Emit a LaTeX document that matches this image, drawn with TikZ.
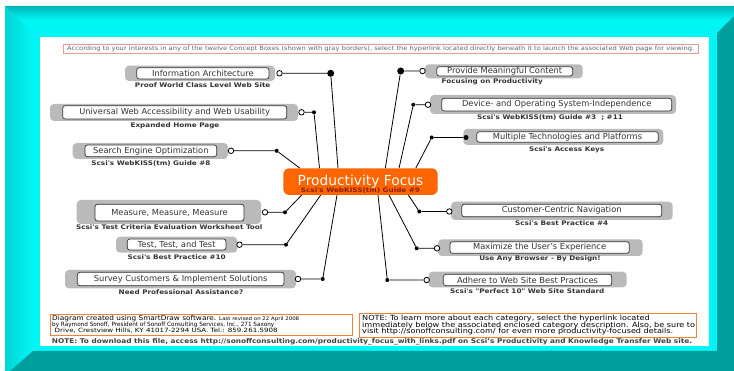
\documentclass[tikz,border=0pt]{standalone}
\usepackage{fontspec}
\usepackage{graphicx}
\setmainfont{DejaVu Sans}
\newfontfamily\widesans[FakeStretch=1.15]{DejaVu Sans}
\usetikzlibrary{calc}
\definecolor{cy}{RGB}{0,245,245}
\definecolor{cydark}{RGB}{0,180,180}
\definecolor{tealdark}{RGB}{0,158,158}
\definecolor{boxgray}{RGB}{186,186,186}
\definecolor{txt}{RGB}{51,51,51}
\definecolor{orangec}{RGB}{255,102,0}
\definecolor{subred}{RGB}{140,30,0}
\definecolor{hdrline}{RGB}{230,160,140}
\definecolor{footline}{RGB}{240,130,60}
\newcommand\lblfont{\fontsize{8.3}{9}\selectfont}
\newcommand\subfont{\widesans\bfseries\fontsize{6.3}{7}\selectfont}
\newcommand\fitto[3]{\resizebox{#1}{\height}{\fontsize{#2}{#2}\selectfont #3}}
\begin{document}
\begin{tikzpicture}[x=1pt,y=-1pt,
  graybox/.style={fill=boxgray, rounded corners=4pt},
  wbox/.style={draw=txt, line width=0.7pt, fill=white, rounded corners=2.5pt, inner sep=0pt, font=\lblfont, text=txt},
  subt/.style={inner sep=0pt, font=\subfont, text=txt},
  ocirc/.style={circle, draw=black, fill=white, line width=0.8pt, inner sep=0pt, minimum size=5.5pt},
  bigdot/.style={circle, fill=black, inner sep=0pt, minimum size=7pt},
  smalldot/.style={circle, fill=black, inner sep=0pt, minimum size=4pt},
  conn/.style={line width=0.8pt, black},
  footbox/.style={draw=footline, line width=0.8pt, inner sep=0pt},
  foottxt/.style={inner sep=0pt, anchor=west, text=black}]
\useasboundingbox (0,0) rectangle (734,371);
\fill[white] (0,0) rectangle (734,371);
% frame
\begin{scope}
\clip (5,6) rectangle (734,371);
\fill[cy] (5,6) rectangle (751,400);
\shade[top color=cydark, bottom color=cy, middle color=cy] (5,6) -- (751,6) -- (717,33) -- (33,33) -- cycle;
\shade[left color=cydark, right color=cy] (5,6) -- (33,33) -- (33,351) -- (-23,400) -- (5,400) -- cycle;
\fill[tealdark] (717,33) -- (751,-1) -- (751,400) -- (-23,400) -- (33,351) -- (717,351) -- cycle;
\end{scope}
\fill[white] (40,37) rectangle (709,346);
% header
\node[draw=hdrline, line width=0.6pt, minimum width=634.5pt, minimum height=9pt, inner sep=0pt, text=black!60] (hdr) at (380.75,49)
  {\fitto{627pt}{6}{According to your interests in any of the twelve Concept Boxes (shown with gray borders), select the hyperlink located directly beneath it to launch the associated Web page for viewing.}};
% ---- left branches
% Information Architecture
\fill[graybox] (125,65.7) rectangle (275,81);
\node[wbox, minimum width=132.3pt, minimum height=11.3pt] (ia) at (202.85,73.35) {Information Architecture};
\node[subt] (iaS) at (202.7,85.5) {Proof World Class Level Web Site};
\node[ocirc] (iaC) at (279.5,73.3) {};
\node[bigdot] (iaD) at (330.7,73.3) {};
\coordinate (iaE) at (338,168.3);
\draw[conn] (iaC) -- (iaD) -- (iaE);
% Universal
\fill[graybox] (50,104) rectangle (298,121);
\node[wbox, minimum width=224pt, minimum height=13.3pt] (uw) at (174.7,112.35) {Universal Web Accessibility and Web Usability};
\node[subt] (uwS) at (175,125.3) {Expanded Home Page};
\node[ocirc] (uwC) at (301.5,112.3) {};
\node[smalldot] (uwD) at (314,112.3) {};
\coordinate (uwE) at (319.5,168.3);
\draw[conn] (uwC) -- (uwD) -- (uwE);
% SEO
\fill[graybox] (72.7,143) rectangle (228,159);
\node[wbox, minimum width=131.7pt, minimum height=11.7pt] (se) at (150.85,150.85) {Search Engine Optimization};
\node[subt] (seS) at (151,163.5) {Scsi's WebKISS(tm) Guide \#8};
\node[ocirc] (seC) at (231,150.8) {};
\node[smalldot] (seD) at (276.7,150.8) {};
\coordinate (seE) at (300,168.3);
\draw[conn] (seC) -- (seD) -- (seE);
% Measure
\fill[graybox] (76.7,200) rectangle (261,224);
\node[wbox, minimum width=149pt, minimum height=16.7pt] (ms) at (169.5,212.65) {Measure, Measure, Measure};
\node[subt] (msS) at (169.3,227) {Scsi's Test Criteria Evaluation Worksheet Tool};
\node[ocirc] (msC) at (265,212.3) {};
\node[smalldot] (msD) at (285,212.3) {};
\coordinate (msE) at (301.7,195);
\draw[conn] (msC) -- (msD) -- (msE);
% Test
\fill[graybox] (116,236.7) rectangle (237.3,252.7);
\node[wbox, minimum width=98.7pt, minimum height=11pt] (tt) at (176.65,244.5) {Test, Test, and Test};
\node[subt] (ttS) at (176.7,256.9) {Scsi's Best Practice \#10};
\node[ocirc] (ttC) at (239.5,244.7) {};
\node[smalldot] (ttD) at (286,244.7) {};
\coordinate (ttE) at (320.7,195);
\draw[conn] (ttC) -- (ttD) -- (ttE);
% Survey
\fill[graybox] (65,270) rectangle (296,288.3);
\node[wbox, minimum width=206.7pt, minimum height=13.4pt] (sc) at (180.65,279) {Survey Customers \& Implement Solutions};
\node[subt] (scS) at (181,291.9) {Need Professional Assistance?};
\node[ocirc] (scC) at (298,279) {};
\node[smalldot] (scD) at (322.7,279) {};
\coordinate (scE) at (337,195);
\draw[conn] (scC) -- (scD) -- (scE);
% ---- right branches
% Provide
\fill[graybox] (425,64.3) rectangle (582.7,78.3);
\node[wbox, minimum width=136pt, minimum height=9.3pt] (pm) at (504.7,71.35) {Provide Meaningful Content};
\node[subt] (pmS) at (492.3,82) {Focusing on Productivity};
\node[ocirc] (pmC) at (422.5,71) {};
\node[bigdot] (pmD) at (400.7,71) {};
\coordinate (pmE) at (385.3,168.3);
\draw[conn] (pmC) -- (pmD) -- (pmE);
% Device
\fill[graybox] (430,95) rectangle (676,114);
\node[wbox, minimum width=230pt, minimum height=12.7pt] (dv) at (556.7,104.65) {Device- and Operating System-Independence};
\node[subt] (dvS) at (550,117.6) {Scsi's WebKISS(tm) Guide \#3 \ ; \#11};
\node[ocirc] (dvC) at (428,104.7) {};
\node[smalldot] (dvD) at (413.3,104.7) {};
\coordinate (dvE) at (399,168.3);
\draw[conn] (dvC) -- (dvD) -- (dvE);
% Multiple
\fill[graybox] (463.3,129) rectangle (663.3,145);
\node[wbox, minimum width=181.6pt, minimum height=10.6pt] (mt) at (567.5,137) {Multiple Technologies and Platforms};
\node[subt] (mtS) at (566.7,149.3) {Scsi's Access Keys};
\node[smalldot, minimum size=5pt] (mtC) at (466,137.5) {};
\node[smalldot] (mtD) at (431.7,137.5) {};
\coordinate (mtE) at (415.7,168.3);
\draw[conn] (mtC) -- (mtD) -- (mtE);
% Customer
\fill[graybox] (451,201.7) rectangle (672.7,220);
\node[wbox, minimum width=200pt, minimum height=12.4pt] (cc) at (561.7,210.5) {Customer-Centric Navigation};
\node[subt] (ccS) at (561.7,223) {Scsi's Best Practice \#4};
\node[ocirc] (ccC) at (449.3,211.5) {};
\node[smalldot] (ccD) at (419.3,211.5) {};
\coordinate (ccE) at (408.3,195);
\draw[conn] (ccC) -- (ccD) -- (ccE);
% Maximize
\fill[graybox] (438,239.3) rectangle (642.7,256);
\node[wbox, minimum width=179.3pt, minimum height=11.6pt] (mx) at (539.65,247.5) {Maximize the User's Experience};
\node[subt] (mxS) at (540,259) {Use Any Browser - By Design!};
\node[ocirc] (mxC) at (437,248.3) {};
\node[smalldot] (mxD) at (416.7,248.3) {};
\coordinate (mxE) at (389,195);
\draw[conn] (mxC) -- (mxD) -- (mxE);
% Adhere
\fill[graybox] (428.5,271.7) rectangle (626.7,287.3);
\node[wbox, minimum width=168.4pt, minimum height=11.4pt] (ad) at (527.5,280) {Adhere to Web Site Best Practices};
\node[subt] (adS) at (527.3,291) {Scsi's "Perfect 10" Web Site Standard};
\node[ocirc] (adC) at (426.7,280) {};
\node[smalldot] (adD) at (387.3,280) {};
\coordinate (adE) at (378,195);
\draw[conn] (adC) -- (adD) -- (adE);
% central node
\node[fill=orangec, rounded corners=6pt, minimum width=154.4pt, minimum height=26.7pt, inner sep=0pt] (c) at (360.5,181.65) {};
\node[inner sep=0pt, text=white, font=\fontsize{13.8}{15}\selectfont] (cT) at (360.5,181.2) {Productivity Focus};
\node[inner sep=0pt, text=subred, font=\subfont] (cS) at (360.5,190.9) {Scsi's WebKISS(tm) Guide \#9};
% footer
\node[footbox, minimum width=302pt, minimum height=21pt] (fl) at (201,324.5) {};
\node[foottxt] (fl1) at (52,318.4) {\fitto{164pt}{6.6}{Diagram created using SmartDraw software.}\hspace{3pt}\fitto{80pt}{4.9}{Last revised on 22 April 2008}};
\node[foottxt] (fl2) at (52,324.6) {\fitto{222pt}{5.8}{by Raymond Sonoff, President of Sonoff Consulting Services, Inc., 271 Saxony}};
\node[foottxt] (fl3) at (54.5,330.4) {\fitto{223pt}{5.8}{Drive, Crestview Hills, KY 41017-2294 USA. Tel.: 859.261.5908}};
\node[footbox, minimum width=337pt, minimum height=23.5pt] (fr) at (527.5,325.3) {};
\node[foottxt, font=\widesans\fontsize{7.05}{8}\selectfont] (fr1) at (362,318.8) {NOTE: To learn more about each category, select the hyperlink located};
\node[foottxt, font=\widesans\fontsize{7.05}{8}\selectfont] (fr2) at (362,325.4) {immediately below the associated enclosed category description. Also, be sure to};
\node[foottxt, font=\widesans\fontsize{7.05}{8}\selectfont] (fr3) at (362,332) {visit http://sonoffconsulting.com/ for even more productivity-focused details.};
\node[inner sep=0pt, text=black!75] (note) at (372,341.3) {\fitto{640pt}{6.5}{\bfseries NOTE: To download this file, access http://sonoffconsulting.com/productivity\_focus\_with\_links.pdf on Scsi's Productivity and Knowledge Transfer Web site.}};
\end{tikzpicture}
\end{document}
